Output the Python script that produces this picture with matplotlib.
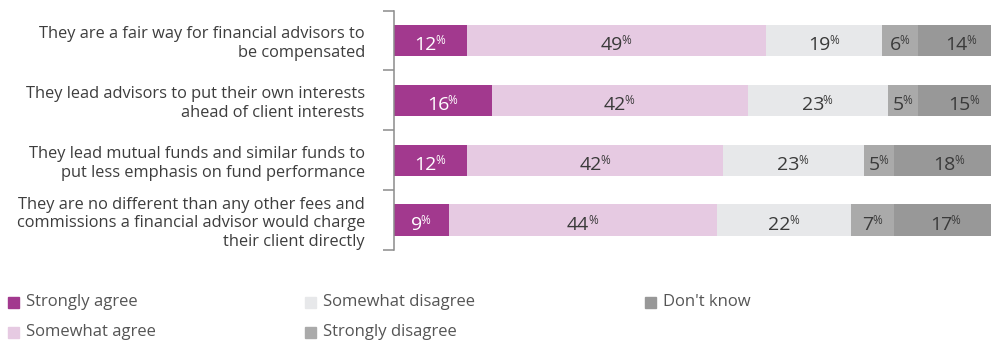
import numpy as np
import matplotlib.pyplot as plt
from matplotlib.patches import Rectangle
from matplotlib.transforms import offset_copy

plt.rcParams['font.family'] = ['Open Sans', 'DejaVu Sans']

statements = [
    "They are a fair way for financial advisors to\nbe compensated",
    "They lead advisors to put their own interests\nahead of client interests",
    "They lead mutual funds and similar funds to\nput less emphasis on fund performance",
    "They are no different than any other fees and\ncommissions a financial advisor would charge\ntheir client directly",
]
responses = ["Strongly agree", "Somewhat agree", "Somewhat disagree",
             "Strongly disagree", "Don't know"]
strongly_agree = [12, 16, 12, 9]
somewhat_agree = [49, 42, 42, 44]
somewhat_disagree = [19, 23, 23, 22]
strongly_disagree = [6, 5, 5, 7]
dont_know = [14, 15, 18, 17]

colors = ['#a2398e', '#e6cae2', '#e7e8ea', '#aaaaaa', '#989898']
text_colors = ['white', '#3a3a3a', '#3a3a3a', '#3a3a3a', '#3a3a3a']

W, H = 991, 343
fig = plt.figure(figsize=(W / 100, H / 100), dpi=100)
ax = fig.add_axes([394 / W, 1 - 250 / H, 1 - 394 / W, 239.5 / H])

NUM_SIZE, PCT_SIZE = 14, 8.5
DIGIT_W = 0.572 * NUM_SIZE   # tabular digit width, points
PCT_W = 0.83 * PCT_SIZE

series = [strongly_agree, somewhat_agree, somewhat_disagree,
          strongly_disagree, dont_know]
y = np.arange(len(statements))
left = np.zeros(len(statements))
for vals, col, tcol in zip(series, colors, text_colors):
    vals = np.array(vals, dtype=float)
    ax.barh(y, vals, left=left, height=0.52, color=col, edgecolor='none')
    for yi, l, v in zip(y, left, vals):
        s = str(int(v))
        num_w = DIGIT_W * len(s)
        x0 = -(num_w + PCT_W) / 2
        tr = offset_copy(ax.transData, fig=fig, x=x0, y=0, units='points')
        ax.text(l + v / 2, yi + 0.16, s, transform=tr, ha='left',
                va='baseline', fontsize=NUM_SIZE, color=tcol)
        # small raised percent sign right after the number
        tr = offset_copy(ax.transData, fig=fig, x=x0 + num_w - 0.9, y=4.4,
                         units='points')
        ax.text(l + v / 2, yi + 0.16, '%', transform=tr, ha='left',
                va='baseline', fontsize=PCT_SIZE, color=tcol)
    left += vals

ax.set_xlim(0, 97.9)
ax.set_ylim(3.5, -0.5)
ax.set_xticks([])
ax.set_yticks(y)
ax.set_yticklabels(statements, fontsize=11.8, color='#3d3d3d',
                   multialignment='right')
ax.set_yticks(np.arange(-0.5, 4, 1), minor=True)
ax.tick_params(axis='y', which='major', length=0, pad=21)
ax.tick_params(axis='y', which='minor', length=8, width=1.1,
               color='#8c8c8c')
for side in ['top', 'right', 'bottom']:
    ax.spines[side].set_visible(False)
ax.spines['left'].set_color('#8c8c8c')
ax.spines['left'].set_linewidth(1.1)

# legend laid out in three columns, filled top to bottom
col_x = [8, 305, 645]
row_y = [302.5, 332.5]
for i, (name, col) in enumerate(zip(responses, colors)):
    x0 = col_x[i // 2]
    y0 = row_y[i % 2]
    fig.patches.append(Rectangle((x0 / W, 1 - (y0 + 5.5) / H), 11 / W, 11 / H,
                                 transform=fig.transFigure, color=col))
    fig.text((x0 + 18) / W, 1 - y0 / H, name, fontsize=12, color='#555555',
             va='center', ha='left')

fig.savefig('out.png', dpi=100)
